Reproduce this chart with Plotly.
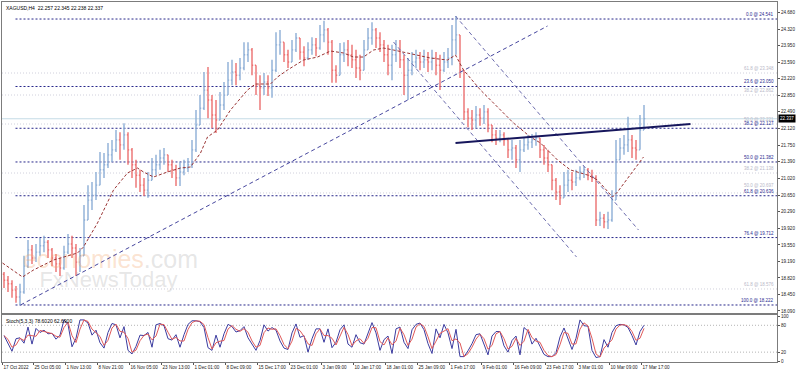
import plotly.graph_objects as go
import pandas as pd

# ---------------- data ----------------
# each bar below groups 4 consecutive H4 bars
group = 4
closes = [18.77,18.69,18.55,18.40,18.51,19.08,19.44,19.26,19.39,19.53,
          19.61,19.44,19.26,19.13,19.04,19.39,19.57,19.48,19.17,19.31,
          20.10,20.54,20.65,20.87,21.21,21.32,21.54,21.65,21.87,21.76,
          21.98,21.65,21.32,21.09,20.87,20.76,20.98,21.21,21.32,21.47,
          21.54,21.32,21.21,21.03,21.16,21.25,21.32,21.65,22.20,22.57,
          22.97,22.75,22.42,22.31,22.64,22.86,23.19,23.37,23.30,23.46,
          23.75,23.86,23.52,23.08,23.02,23.15,23.02,23.41,23.97,24.03,
          23.75,23.59,23.86,24.12,23.81,23.68,23.86,23.97,23.90,24.19,
          24.30,24.03,23.41,23.30,23.75,23.86,23.75,23.64,23.46,23.41,
          23.86,24.12,24.30,24.12,23.97,23.75,23.52,23.75,23.86,23.64,
          23.30,23.41,23.59,23.68,23.59,23.64,23.59,23.68,23.52,23.41,
          23.59,23.68,24.08,24.19,23.41,22.49,22.35,22.31,22.42,22.35,
          22.49,22.20,21.98,21.91,21.98,21.87,21.65,21.69,21.43,21.65,
          21.76,21.82,21.87,21.91,21.65,21.47,21.32,20.98,20.72,20.59,
          20.87,20.98,20.94,21.03,21.16,21.21,21.09,21.03,20.10,20.14,
          20.06,20.10,20.54,21.43,21.69,21.76,21.87,21.69,21.65,22.09,
          22.34]
highs = [18.95,18.86,18.77,18.64,18.69,19.31,19.66,19.55,19.57,19.70,
         19.75,19.66,19.48,19.35,19.26,19.53,19.79,19.75,19.57,19.48,
         20.43,20.87,20.94,21.16,21.60,21.58,21.80,21.87,22.09,22.04,
         22.24,22.04,21.69,21.43,21.21,21.03,21.16,21.47,21.54,21.65,
         21.69,21.54,21.43,21.32,21.38,21.43,21.47,21.87,22.53,22.86,
         23.37,23.48,22.86,22.75,22.93,23.15,23.59,23.64,23.57,23.68,
         24.03,24.03,23.90,23.41,23.30,23.35,23.30,23.64,24.25,24.30,
         24.03,23.86,24.08,24.23,24.12,23.94,24.03,24.14,24.12,24.41,
         24.50,24.34,24.08,23.52,24.01,24.03,24.08,23.97,23.86,23.75,
         24.08,24.34,24.47,24.34,24.25,24.08,23.97,23.97,24.08,24.08,
         23.75,23.68,23.81,23.86,23.81,23.86,23.81,23.86,23.81,23.75,
         23.81,23.90,24.41,24.61,24.19,23.41,22.57,22.53,22.62,22.57,
         22.64,22.57,22.20,22.09,22.09,22.04,21.91,21.87,21.76,21.87,
         21.91,21.98,22.00,22.04,21.91,21.76,21.65,21.32,21.03,20.87,
         21.16,21.21,21.16,21.21,21.29,21.29,21.25,21.21,21.09,20.28,
         20.23,20.28,20.76,21.87,21.91,21.98,22.38,21.98,21.87,22.42,
         22.64]
lows = [18.60,18.51,18.38,18.27,18.22,18.47,19.04,19.13,19.17,19.31,
        19.39,19.26,19.08,18.95,18.86,19.00,19.35,19.26,18.86,18.95,
        19.31,20.21,20.32,20.54,20.94,21.03,21.25,21.38,21.60,21.43,
        21.65,21.32,21.03,20.81,20.72,20.63,20.59,20.98,21.09,21.21,
        21.32,21.16,21.03,20.85,20.85,21.09,21.16,21.25,21.60,22.20,
        22.53,22.35,22.13,22.02,22.31,22.53,22.86,23.08,23.08,23.19,
        23.41,23.59,23.30,22.86,22.53,22.86,22.84,22.80,23.37,23.75,
        23.59,23.46,23.64,23.81,23.64,23.50,23.64,23.75,23.72,23.86,
        24.03,23.75,23.13,23.13,23.46,23.59,23.50,23.46,23.24,23.19,
        23.41,23.86,23.97,23.90,23.81,23.59,23.30,23.19,23.59,23.46,
        22.86,22.75,23.30,23.46,23.41,23.46,23.37,23.41,23.30,22.97,
        23.37,23.46,23.52,23.75,23.24,22.31,22.15,22.09,22.13,22.18,
        22.22,22.04,21.82,21.76,21.82,21.74,21.47,21.43,21.25,21.16,
        21.60,21.65,21.69,21.74,21.47,21.32,21.16,20.76,20.54,20.43,
        20.65,20.72,20.76,20.85,20.98,21.03,20.98,20.94,19.97,19.97,
        19.92,19.90,20.06,20.54,21.47,21.54,21.60,21.47,21.43,21.76,
        22.24]
first_open = 18.90

stoch_k = [57,40,22,50,52,40,76,38,73,64,
           69,61,62,49,58,92,82,32,51,92,
           92,85,58,69,41,29,64,84,81,52,
           77,24,16,33,58,57,64,31,81,84,
           79,50,47,59,31,59,82,90,90,88,
           75,30,24,58,31,61,82,77,65,68,
           77,52,38,24,46,81,67,75,69,45,
           29,26,63,83,53,57,20,50,72,72,
           42,72,30,42,70,81,38,31,59,41,
           38,64,86,63,24,48,56,17,72,76,
           42,28,70,82,85,70,39,17,72,52,
           82,63,28,71,10,10,23,39,59,61,
           39,14,56,66,66,34,20,46,56,14,
           75,67,38,51,33,15,10,10,19,54,
           74,50,26,51,92,79,78,24,8,10,
           48,31,64,79,82,81,75,57,36,66,
           80]

# moving average (bar index in H4 bars, price)
ma_idx = [0,20,31,51,75,81,95,111,125,135,141,151,165,178,188,198,205,215,228,245,
          253,268,275,285,301,315,328,341,351,361,371,381,391,401,415,428,445,453,461,478,
          495,511,528,538,555,568,585,595,610,615,641]
ma_val = [19.150,18.841,18.995,19.216,19.371,19.504,20.034,20.763,21.139,21.249,21.161,21.050,
          21.161,21.249,21.271,21.580,21.934,22.089,22.530,22.972,23.105,23.105,23.260,23.414,
          23.635,23.701,23.834,23.790,23.701,23.701,23.856,23.900,23.856,23.812,23.746,23.679,
          23.635,23.746,23.414,22.972,22.597,22.243,21.934,21.801,21.426,21.205,21.094,20.984,
          20.608,20.719,21.492]

fib_pct = ["0.0", "23.6", "38.2", "50.0", "61.8", "76.4", "100.0"]
fib_price = [24.541, 23.050, 22.127, 21.382, 20.636, 19.712, 18.222]
fib2_pct = ["61.8", "38.2", "50.0", "38.2", "50.0", "61.8"]
fib2_price = [23.348, 22.862, 22.221, 21.138, 20.697, 18.576]

y_ticks = [24.680, 24.320, 23.950, 23.590, 23.220, 22.850, 22.490, 22.120, 21.750,
           21.390, 21.020, 20.650, 20.290, 19.920, 19.550, 19.190, 18.820, 18.450, 18.090]
x_labels = ["17 Oct 2022", "25 Oct 05:00", "1 Nov 13:00", "8 Nov 21:00", "16 Nov 05:00",
            "23 Nov 13:00", "1 Dec 01:00", "8 Dec 09:00", "15 Dec 17:00", "23 Dec 01:00",
            "3 Jan 09:00", "10 Jan 17:00", "18 Jan 01:00", "25 Jan 09:00", "1 Feb 17:00",
            "9 Feb 01:00", "16 Feb 09:00", "23 Feb 17:00", "3 Mar 01:00", "10 Mar 09:00",
            "17 Mar 17:00"]
x_label_bar = [0, 31, 63, 95, 127, 159, 191, 223, 255, 287, 319, 351, 383, 415, 447,
               479, 511, 543, 575, 607, 639]

trend_up_x, trend_up_y = [18, 545], [18.222, 24.386]
chan_up_x, chan_up_y = [453, 636], [24.607, 19.879]
chan_lo_x, chan_lo_y = [391, 574], [24.033, 19.283]
neck_x, neck_y = [453, 688], [21.802, 22.221]

last_price = 22.337
header = "XAGUSD,H4  22.257 22.345 22.238 22.337"
stoch_label = "Stoch(5,3,3) 78.6020 62.6900"

# ---------------- derived ----------------
n = len(closes)
bar_x = [group * k + 1.5 for k in range(n)]
opens = [first_open] + closes[:-1]
hi = [max(h, o, c) for h, o, c in zip(highs, opens, closes)]
lo = [min(l, o, c) for l, o, c in zip(lows, opens, closes)]
stoch_d = pd.Series(stoch_k).rolling(2, min_periods=1).mean().tolist()

FONT = "Liberation Sans"
XR = [-0.5, 774.5]
TICKFONT = dict(family=FONT, size=4.6, color="#222222")

fig = go.Figure()

# watermark (drawn first so it sits behind the bars)
fig.add_trace(go.Scatter(
    x=[108], y=[19.17], mode="text",
    text=['<span style="color:rgba(244,160,100,0.30)">economies</span>'
          '<span style="color:rgba(170,170,170,0.30)">.com</span>'],
    textfont=dict(family=FONT, size=25), hoverinfo="skip", showlegend=False))
fig.add_trace(go.Scatter(
    x=[106], y=[18.74], mode="text",
    text=['<span style="color:rgba(170,170,170,0.30)">FxNewsToday</span>'],
    textfont=dict(family=FONT, size=22), hoverinfo="skip", showlegend=False))

# trend lines
fig.add_trace(go.Scatter(x=trend_up_x, y=trend_up_y, mode="lines",
                         line=dict(color="#46469e", width=1, dash="4px,3px"),
                         hoverinfo="skip", showlegend=False))
fig.add_trace(go.Scatter(x=chan_up_x, y=chan_up_y, mode="lines",
                         line=dict(color="#6c6cae", width=1, dash="4px,3px"),
                         hoverinfo="skip", showlegend=False))
fig.add_trace(go.Scatter(x=chan_lo_x, y=chan_lo_y, mode="lines",
                         line=dict(color="#6c6cae", width=1, dash="4px,3px"),
                         hoverinfo="skip", showlegend=False))

# price bars
fig.add_trace(go.Ohlc(
    x=bar_x, open=opens, high=hi, low=lo, close=closes,
    increasing=dict(line=dict(color="#8daed6", width=1.4)),
    decreasing=dict(line=dict(color="#ec7070", width=1.4)),
    tickwidth=0.3, showlegend=False, hoverinfo="skip"))

# moving average
fig.add_trace(go.Scatter(x=ma_idx, y=ma_val, mode="lines",
                         line=dict(color="#9a3434", width=1, dash="3px,2px"),
                         hoverinfo="skip", showlegend=False))

# neckline
fig.add_trace(go.Scatter(x=neck_x, y=neck_y, mode="lines",
                         line=dict(color="#16165c", width=2),
                         hoverinfo="skip", showlegend=False))

# stochastic
fig.add_trace(go.Scatter(x=bar_x, y=stoch_k, mode="lines", xaxis="x2", yaxis="y2",
                         line=dict(color="#3c3ca0", width=1),
                         hoverinfo="skip", showlegend=False))
fig.add_trace(go.Scatter(x=bar_x, y=stoch_d, mode="lines", xaxis="x2", yaxis="y2",
                         line=dict(color="#e05a5a", width=1),
                         hoverinfo="skip", showlegend=False))

shapes = []
# current price line
shapes.append(dict(type="line", xref="x", yref="y", x0=XR[0], x1=XR[1],
                   y0=last_price, y1=last_price, line=dict(color="#c4dbe6", width=1),
                   layer="below"))
for p in fib2_price:
    shapes.append(dict(type="line", xref="x", yref="y", x0=XR[0], x1=XR[1], y0=p, y1=p,
                       line=dict(color="#d0d0dc", width=1, dash="1px,2px"), layer="below"))
for p in fib_price:
    shapes.append(dict(type="line", xref="x", yref="y", x0=13, x1=XR[1], y0=p, y1=p,
                       line=dict(color="#26268a", width=1, dash="2px,2px"), layer="below"))
for lvl in (80, 20):
    shapes.append(dict(type="line", xref="x2", yref="y2", x0=XR[0], x1=XR[1], y0=lvl, y1=lvl,
                       line=dict(color="#b4b4b4", width=1, dash="1px,2px"), layer="below"))

annotations = []
for i, (pct, p) in enumerate(zip(fib2_pct, fib2_price)):
    annotations.append(dict(x=773, y=p, xref="x", yref="y", xanchor="right", yanchor="bottom",
                            text=f"{pct} @ {p:.3f}", showarrow=False,
                            yshift=3 if i == 4 else 0,
                            font=dict(family=FONT, size=4.5, color="#b8b8c8")))
for pct, p in zip(fib_pct, fib_price):
    annotations.append(dict(x=773, y=p, xref="x", yref="y", xanchor="right", yanchor="bottom",
                            text=f"{pct} @ {p:.3f}", showarrow=False,
                            font=dict(family=FONT, size=4.5, color="#2a2a90")))
annotations.append(dict(x=1, y=last_price, xref="paper", yref="y", xanchor="left",
                        yanchor="middle", text=f"{last_price:.3f}", showarrow=False,
                        bgcolor="black", font=dict(family=FONT, size=4.5, color="white"),
                        borderpad=1, xshift=1))
annotations.append(dict(x=0, y=1, xref="paper", yref="paper", xanchor="left", yanchor="top",
                        text=header, showarrow=False, xshift=2, yshift=-1,
                        font=dict(family=FONT, size=5, color="black")))
annotations.append(dict(x=0, y=0.1306, xref="paper", yref="paper", xanchor="left",
                        yanchor="top", text=stoch_label, showarrow=False, xshift=2, yshift=-1,
                        font=dict(family=FONT, size=5, color="black")))

axis_common = dict(showgrid=False, zeroline=False, showline=True, mirror=True,
                   linecolor="#7c7c7c", linewidth=1, automargin=False)

fig.update_layout(
    width=798, height=372,
    margin=dict(l=2, r=21, t=2, b=10, autoexpand=False),
    paper_bgcolor="white", plot_bgcolor="white",
    showlegend=False,
    shapes=shapes, annotations=annotations,
    xaxis=dict(domain=[0, 1], range=XR, anchor="y", showticklabels=False, ticks="",
               rangeslider=dict(visible=False), **axis_common),
    yaxis=dict(domain=[0.1361, 1], range=[18.045, 24.917], side="right", anchor="x",
               tickvals=y_ticks, ticktext=[f"{v:.3f}" for v in y_ticks],
               ticks="outside", ticklen=2, tickcolor="#555555", tickfont=TICKFONT,
               ticklabeloverflow="allow", **axis_common),
    xaxis2=dict(domain=[0, 1], range=XR, anchor="y2", matches="x",
                tickvals=x_label_bar, ticktext=x_labels, ticks="outside", ticklen=2,
                tickcolor="#555555", ticklabelposition="outside right", tickangle=0,
                ticklabeloverflow="allow", tickfont=TICKFONT,
                rangeslider=dict(visible=False), **axis_common),
    yaxis2=dict(domain=[0, 0.1306], range=[-2, 103], side="right", anchor="x2",
                tickvals=[0, 20, 80, 100], ticktext=["0", "20", "80", "100"],
                ticks="outside", ticklen=2, tickcolor="#555555", tickfont=TICKFONT,
                ticklabeloverflow="allow", **axis_common),
)

fig.write_html("out.html", config={"displayModeBar": False},
               post_script="document.body.style.margin='0';document.body.style.padding='0';")
